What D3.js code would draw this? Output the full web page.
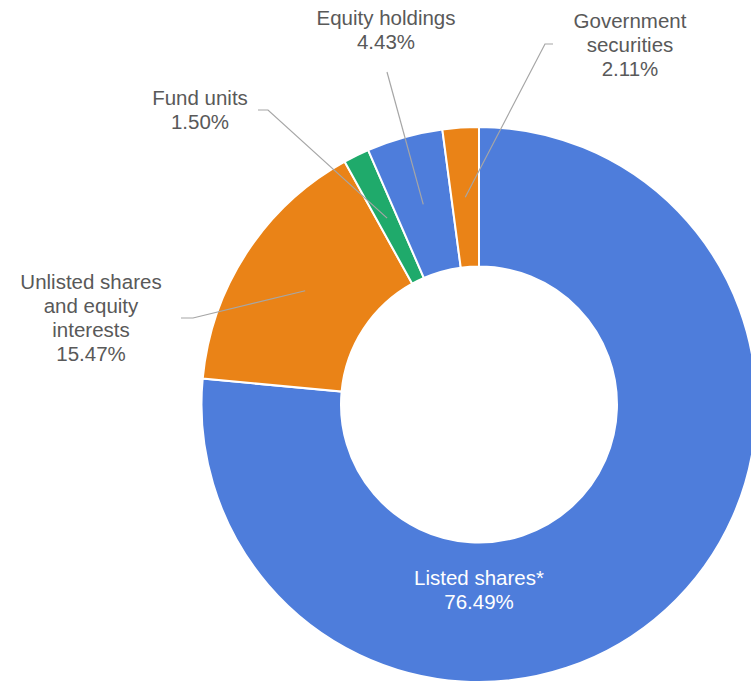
<!DOCTYPE html>
<html>
<head>
<meta charset="utf-8">
<script src="https://cdn.jsdelivr.net/npm/d3@7"></script>
<style>
  body { margin: 0; background: #fff; }
  text { font-family: "Liberation Sans", Arial, sans-serif; }
</style>
</head>
<body>
<div id="chart"></div>
<script>
// data, clockwise from 12 o'clock
var categories = ["Listed shares*", "Unlisted shares and equity interests", "Fund units", "Equity holdings", "Government securities"];
var shares = [76.49, 15.47, 1.50, 4.43, 2.11];
var colors = ["#4e7ddb", "#ea8317", "#1faa6b", "#4e7ddb", "#ea8317"];
// label lines as they are broken in the picture
var labelLines = [
  ["Listed shares*"],
  ["Unlisted shares", "and equity", "interests"],
  ["Fund units"],
  ["Equity holdings"],
  ["Government", "securities"]
];

var svgWidth = 751;
var svgHeight = 684;

var cx = 479, cy = 404.5;
var outerR = 277.5, innerR = 138;

// where each outside label sits (text centre x, first baseline y) and the elbow of its leader
var labelSpots = [
  null,
  {x: 91, y: 289, elbow: [193, 318], end: [181, 318]},
  {x: 200, y: 105, elbow: [268, 110], end: [258, 110]},
  {x: 386, y: 25, elbow: [387, 72], end: null},
  {x: 630, y: 28, elbow: [545, 44], end: [553, 44]}
];
var lineGap = 24;

var svg = d3.select("#chart").append("svg")
  .attr("width", svgWidth)
  .attr("height", svgHeight);

var pie = d3.pie().sort(null).value(function(d) { return d; });
var arcs = pie(shares);

var arc = d3.arc().innerRadius(innerR).outerRadius(outerR);
var midArc = d3.arc().innerRadius((innerR + outerR) / 2).outerRadius((innerR + outerR) / 2);

var g = svg.append("g").attr("transform", "translate(" + cx + "," + cy + ")");

g.selectAll("path.slice")
  .data(arcs)
  .enter()
  .append("path")
  .attr("class", "slice")
  .attr("d", arc)
  .attr("fill", function(d, i) { return colors[i]; })
  .attr("stroke", "#fff")
  .attr("stroke-width", 2);

//leader lines first so the text stays on top
arcs.forEach(function(d, i) {
  var spot = labelSpots[i];
  if (!spot) return;
  var c = midArc.centroid(d);
  var pts = [[c[0] + cx, c[1] + cy], spot.elbow];
  if (spot.end) pts.push(spot.end);
  svg.append("polyline")
    .attr("points", pts.map(function(p) { return p.join(","); }).join(" "))
    .attr("fill", "none")
    .attr("stroke", "#a6a6a6")
    .attr("stroke-width", 1.2);
});

arcs.forEach(function(d, i) {
  var lines = labelLines[i].concat([shares[i].toFixed(2) + "%"]);
  var spot = labelSpots[i];
  var x, y, fill;
  if (spot) {
    x = spot.x; y = spot.y; fill = "#595959";
  } else {
    // the big slice gets its label inside, under the hole
    x = cx; y = 585; fill = "#ffffff";
  }
  var t = svg.append("text")
    .attr("text-anchor", "middle")
    .attr("font-size", 20.5)
    .attr("fill", fill);
  lines.forEach(function(s, k) {
    t.append("tspan").attr("x", x).attr("y", y + k * lineGap).text(s);
  });
});
</script>
</body>
</html>
